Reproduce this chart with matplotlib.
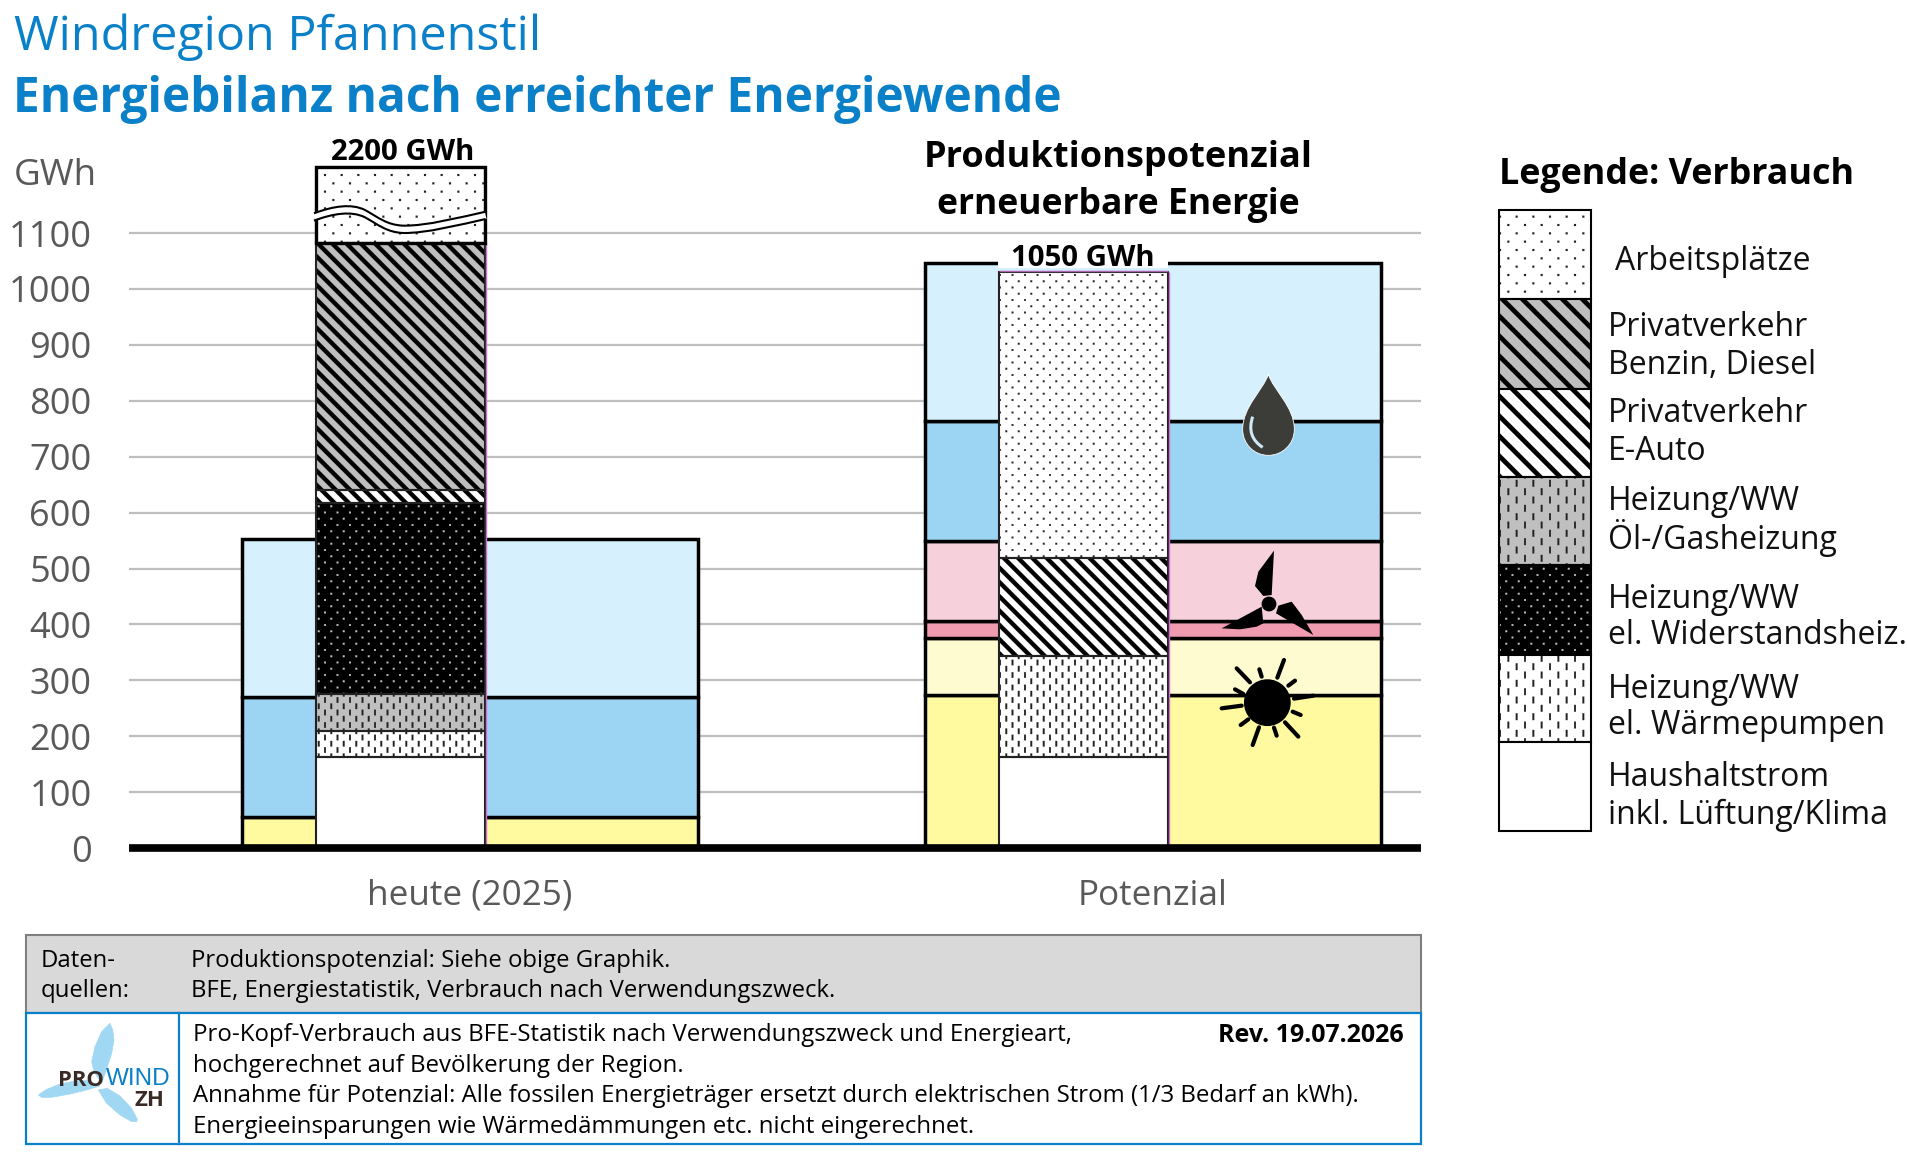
import numpy as np
import matplotlib
matplotlib.use('Agg')
import matplotlib.pyplot as plt
import matplotlib.hatch as mhatch
from matplotlib.path import Path
from matplotlib.patches import PathPatch, Polygon, Circle, Rectangle

plt.rcParams['font.family'] = ['Open Sans', 'DejaVu Sans']
plt.rcParams['hatch.linewidth'] = 0.1

# values in GWh
categories = ['heute (2025)', 'Potenzial']
y_ticks = [0, 100, 200, 300, 400, 500, 600, 700, 800, 900, 1000, 1100]

# production (wide bars), bottom to top
solar_a = [55, 273]
solar_b = [0, 102]
wind_a = [0, 31]
wind_b = [0, 143]
water = [215, 215]
other = [282, 282]
prod_colors = ['#FFF99F', '#FEFBD0', '#F19BB0', '#F6D0DA', '#9CD4F3', '#D6F1FD']

# consumption (narrow bars), bottom to top
household = [162, 162]
heatpump = [47, 182]
oil_gas = [67, 0]
resistive = [342, 0]
e_car = [22, 175]
petrol = [443, 0]
# heute is 2200 in total, the bar is cut off by the axis break
workplaces = [135, 512]

total_labels = ['2200 GWh', '1050 GWh']

legend_labels = ['Arbeitsplätze', 'Privatverkehr\nBenzin, Diesel', 'Privatverkehr\nE-Auto',
                 'Heizung/WW\nÖl-/Gasheizung', 'Heizung/WW\nel. Widerstandsheiz.',
                 'Heizung/WW\nel. Wärmepumpen', 'Haushaltstrom\ninkl. Lüftung/Klima']


# the built-in hatches cannot do these rasters, so own tiles (1 tile = 100 px)
def lattice(cols, rows, w, h):
    out = []
    for r in range(rows + 1):
        for c in range(cols + 1):
            x = (c + (0.5 if r % 2 else 0)) / cols
            y = r / rows
            out.append([(x - w, y - h), (x + w, y - h), (x + w, y + h), (x - w, y + h)])
    return out


def diagonals(n, w):
    out = []
    for k in range(-n, 2 * n + 1):
        c = k / n
        out.append([(c + 0.2, -0.2), (c + 0.2 + w, -0.2), (c - 1.2 + w, 1.2), (c - 1.2, 1.2)])
    return out


TILES = {
    '.': lattice(6, 12, 0.010, 0.010),
    'o': lattice(8, 16, 0.009, 0.009),
    '|': lattice(6, 12, 0.009, 0.034),
    '-': lattice(8, 16, 0.009, 0.028),
    '*': lattice(8, 16, 0.009, 0.009),
    '\\': diagonals(7, 0.06),
    '/': diagonals(5, 0.065),
}


class TileHatch(mhatch.HatchPatternBase):
    def __init__(self, hatch, density):
        self.polys = []
        for ch in set(hatch):
            self.polys += TILES.get(ch, [])
        self.num_vertices = 5 * len(self.polys)

    def set_vertices_and_codes(self, vertices, codes):
        for i, p in enumerate(self.polys):
            vertices[5 * i:5 * i + 4] = p
            vertices[5 * i + 4] = p[0]
            codes[5 * i] = Path.MOVETO
            codes[5 * i + 1:5 * i + 4] = Path.LINETO
            codes[5 * i + 4] = Path.CLOSEPOLY


mhatch._hatch_types = [TileHatch]

GREY = '#BFBFBF'
# face, hatch colour, hatch for heute / Potenzial / legend
cons_styles = [('white', 'black', None, None, None),
               ('white', '#222222', '-', '-', '|'),
               (GREY, '#222222', '-', '-', '|'),
               ('black', '#C4C4C4', '*', '*', '*'),
               ('white', 'black', '\\', '\\', '/'),
               (GREY, 'black', '\\', '\\', '/'),
               ('white', '#222222', '.', 'o', '.')]

fig = plt.figure(figsize=(19.08, 11.52), dpi=100)
W, H = 1908.0, 1152.0

# plot area 129..1421 px wide, value 0 at 848 px, 55.9 px per 100 GWh
ymax = 1300
top_px = 848 - ymax * 0.559
ax = fig.add_axes([129 / W, 1 - 848 / H, (1421 - 129) / W, (848 - top_px) / H])
ax.set_xlim((129 - 470) / 683, (1421 - 470) / 683)
ax.set_ylim(0, ymax)
for s in ax.spines.values():
    s.set_visible(False)
ax.patch.set_visible(False)
ax.hlines(y_ticks[1:], *ax.get_xlim(), color='#BFBFBF', lw=1.6, zorder=0)

x = np.arange(len(categories))
ax.set_xticks(x, categories)
ax.set_yticks(y_ticks)
ax.tick_params(length=0)
ax.tick_params(axis='y', labelsize=26, labelcolor='#595959', pad=27)
ax.tick_params(axis='x', labelsize=25.3, labelcolor='#595959', pad=22)

prod_width = 0.668
bottom = np.zeros(2)
for vals, col in zip([solar_a, solar_b, wind_a, wind_b, water, other], prod_colors):
    vals = np.array(vals)
    m = vals > 0
    ax.bar(x[m], vals[m], prod_width, bottom=bottom[m], color=col, edgecolor='black', linewidth=2.5, zorder=2)
    bottom = bottom + vals

cons_x = x - 0.102
cons_width = 0.248
bottom = np.zeros(2)
series = [household, heatpump, oil_gas, resistive, e_car, petrol, workplaces]
for vals, st in zip(series, cons_styles):
    vals = np.array(vals)
    for i in range(2):
        if vals[i] == 0:
            continue
        ax.bar(cons_x[i], vals[i], cons_width, bottom=bottom[i], color=st[0], edgecolor=st[1],
               linewidth=0, hatch=st[2 + i], zorder=3)
        ax.bar(cons_x[i], vals[i], cons_width, bottom=bottom[i], fill=False, edgecolor='#222222',
               linewidth=1.5, zorder=4)
    bottom = bottom + vals
# thin coloured rim around the narrow bars
rim_top = [bottom[0] - workplaces[0], bottom[1]]
ax.vlines(cons_x + cons_width / 2 + 0.002, 0, rim_top, color='#D070D0', lw=1, zorder=4)
ax.hlines(bottom[1] + 1.5, cons_x[1] - cons_width / 2, cons_x[1] + cons_width / 2, color='#B060B0', lw=1, zorder=4)
ax.bar(cons_x[0], workplaces[0], cons_width, bottom=bottom[0] - workplaces[0], fill=False,
       edgecolor='black', linewidth=2.4, zorder=5)

ax.axhline(0, color='black', lw=5.5, zorder=6, clip_on=False, solid_capstyle='butt')

# everything else is placed in pixels of the picture
ov = fig.add_axes([0, 0, 1, 1], zorder=10)
ov.set_xlim(0, W)
ov.set_ylim(H, 0)
ov.axis('off')


def txt(px, py, s, size, color='black', weight='normal', ha='left', **kw):
    return ov.text(px, py, s, fontsize=size, color=color, fontweight=weight, ha=ha, va='center', **kw)


BLUE = '#0A80C8'
txt(14, 37, 'Windregion Pfannenstil', 34.8, BLUE)
txt(13, 99, 'Energiebilanz nach erreichter Energiewende', 34.4, BLUE, 'bold')
txt(14, 176, 'GWh', 26.5, '#595959')
txt(403, 152, total_labels[0], 21.2, weight='bold', ha='center')
# white gap in the top line of the wide bar, as wide as the narrow bar
ov.add_patch(Rectangle((998, 250), 170, 18, facecolor='white', edgecolor='none'))
txt(1083, 259, total_labels[1], 21.2, weight='bold', ha='center')
txt(1118, 158, 'Produktionspotenzial', 26, weight='bold', ha='center')
txt(1118, 205, 'erneuerbare Energie', 25.6, weight='bold', ha='center')


# axis break on the first narrow bar, shape traced in zoom coordinates
def z1(pts):
    return [(240 + a / 3, 130 + b / 3) for a, b in pts]


brk = [(222, 0), (280, -22), (335, -30), (375, -10), (415, 12), (440, 35), (490, 37),
       (560, 38), (660, 12), (737, -5)]
brk_codes = [Path.MOVETO] + [Path.CURVE4] * 9
for dy, col, lw in [(261, 'white', 5.5), (250, 'black', 1.5), (272, 'black', 1.5)]:
    ov.add_patch(PathPatch(Path(z1([(a, b + dy) for a, b in brk]), brk_codes), fill=False,
                           edgecolor=col, lw=lw, capstyle='butt'))


# icons
def z2(pts):
    return [(900 + a / 3, 340 + b / 3) for a, b in pts]


drop = [(1105, 103), (1120, 150), (1183, 200), (1183, 268), (1183, 312), (1148, 346), (1105, 346),
        (1062, 346), (1028, 312), (1028, 268), (1028, 200), (1090, 150), (1105, 103)]
ov.add_patch(PathPatch(Path(z2(drop), [Path.MOVETO] + [Path.CURVE4] * 12), facecolor='#3C3C38',
                       edgecolor='white', lw=0.6))
ov.add_patch(PathPatch(Path(z2([(1058, 230), (1038, 290), (1088, 322)]), [Path.MOVETO, Path.CURVE3, Path.CURVE3]),
                       fill=False, edgecolor='#D0E8F4', lw=2.2))

blades = [[(1122, 632), (1115, 765), (1090, 768), (1065, 738), (1075, 695)],
          [(1240, 885), (1128, 820), (1135, 797), (1175, 785), (1205, 825)],
          [(965, 865), (1085, 800), (1090, 850), (1070, 860), (1020, 868)]]
for b in blades:
    ov.add_patch(Polygon(z2(b), facecolor='black', edgecolor='none'))
ov.add_patch(Circle(z2([(1107, 792)])[0], 6.7, color='black'))

ov.add_patch(Circle(z2([(1102, 1088)])[0], 22.7, color='black'))
rays = [[(1010, 985), (1050, 1027)], [(1078, 988), (1085, 1010)], [(1152, 960), (1132, 1013)],
        [(1185, 1022), (1165, 1037)], [(1240, 1067), (1182, 1076)], [(1202, 1125), (1178, 1115)],
        [(1195, 1190), (1155, 1147)], [(1130, 1187), (1122, 1163)], [(1058, 1215), (1077, 1162)],
        [(1022, 1155), (1045, 1138)], [(965, 1105), (1025, 1097)], [(1005, 1048), (1030, 1062)]]
for r in rays:
    p = np.array(z2(r))
    ov.plot(p[:, 0], p[:, 1], color='black', lw=3, solid_capstyle='round')

# legend
txt(1499, 175, 'Legende: Verbrauch', 25.8, weight='bold')
swatch_y = [210, 299, 389, 477, 565, 655, 742, 831]
legend_styles = [cons_styles[6], cons_styles[5], cons_styles[4], cons_styles[2], cons_styles[3],
                 cons_styles[1], cons_styles[0]]
for i, st in enumerate(legend_styles):
    ov.add_patch(Rectangle((1499, swatch_y[i]), 92, swatch_y[i + 1] - swatch_y[i], facecolor=st[0],
                           edgecolor=st[1], hatch=st[4], lw=0))
    ov.add_patch(Rectangle((1499, swatch_y[i]), 92, swatch_y[i + 1] - swatch_y[i], fill=False,
                           edgecolor='black', lw=1.5))
legend_text_y = [[258], [325, 363], [411, 449], [498, 535], [596, 633], [686, 723], [775, 812]]
for lab, ys in zip(legend_labels, legend_text_y):
    for line, py in zip(lab.split('\n'), ys):
        txt(1615 if len(ys) == 1 else 1608, py + 3, line, 23, '#111111')

# footer
ov.add_patch(Rectangle((26, 935), 1395, 78, facecolor='#D9D9D9', edgecolor='#7F7F7F', lw=1.5))
ov.add_patch(Rectangle((26, 1013), 1395, 131, facecolor='white', edgecolor=BLUE, lw=1.6))
ov.plot([179, 179], [1013, 1144], color=BLUE, lw=1.6)
txt(41, 961, 'Daten-', 17.2)
txt(41, 991, 'quellen:', 17.2)
txt(191, 961, 'Produktionspotenzial: Siehe obige Graphik.', 17.2)
txt(191, 991, 'BFE, Energiestatistik, Verbrauch nach Verwendungszweck.', 17.2)
for py, line in zip([1035, 1066, 1096, 1127],
                    ['Pro-Kopf-Verbrauch aus BFE-Statistik nach Verwendungszweck und Energieart,',
                     'hochgerechnet auf Bevölkerung der Region.',
                     'Annahme für Potenzial: Alle fossilen Energieträger ersetzt durch elektrischen Strom (1/3 Bedarf an kWh).',
                     'Energieeinsparungen wie Wärmedämmungen etc. nicht eingerechnet.']):
    txt(193, py, line, 17.25)
txt(1404, 1035, 'Rev. 19.07.2026', 18, weight='bold', ha='right')


# logo
def z5(pts):
    return [(20 + a / 3, 1010 + b / 3) for a, b in pts]


logo_blades = [[(270, 40), (278, 60), (282, 90), (275, 130), (262, 170), (245, 220), (222, 185), (215, 155), (225, 110), (245, 65)],
               [(55, 255), (80, 238), (120, 222), (170, 212), (205, 212), (240, 228), (200, 240), (150, 252), (95, 262), (65, 262)],
               [(350, 335), (352, 328), (335, 295), (300, 258), (262, 235), (235, 240), (260, 280), (300, 315), (335, 335)]]
for b in logo_blades:
    ov.add_patch(Polygon(z5(b), facecolor='#A0D8F4', edgecolor='#A0D8F4', lw=0.5, joinstyle='round'))
lx, ly = z5([(184, 212)])[0]
txt(lx, ly, 'PRO', 15.8, '#3A2A25', 'bold', ha='center')
lx, ly = z5([(356, 208)])[0]
txt(lx, ly, 'WIND', 17.5, BLUE, ha='center', family=['Liberation Sans'])
lx, ly = z5([(387, 270)])[0]
txt(lx, ly, 'ZH', 16, '#3A2A25', 'bold', ha='center')

fig.savefig('out.png', dpi=100)
